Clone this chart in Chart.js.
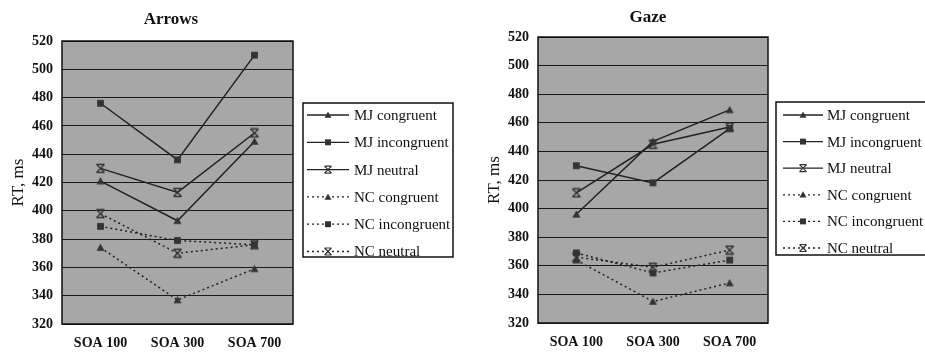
<!DOCTYPE html>
<html>
<head>
<meta charset="utf-8">
<script src="https://cdn.jsdelivr.net/npm/chart.js@4"></script>
<style>
body{margin:0;background:#fff;width:925px;height:354px;overflow:hidden;position:relative}
#c1{position:absolute;left:0;top:0}
#c2{position:absolute;left:462px;top:0}
</style>
</head>
<body>
<canvas id="c1" width="462" height="354"></canvas>
<canvas id="c2" width="463" height="354"></canvas>
<script>
const categories = ['SOA 100', 'SOA 300', 'SOA 700'];
const seriesNames = ['MJ congruent', 'MJ incongruent', 'MJ neutral', 'NC congruent', 'NC incongruent', 'NC neutral'];
const seriesMarkers = ['triangle', 'rect', 'xbar', 'triangle', 'rect', 'xbar'];
const yMin = 320, yMax = 520, yStep = 20;

// Arrows
const arrowsMJCongruent   = [421, 393, 449];
const arrowsMJIncongruent = [476, 436, 510];
const arrowsMJNeutral     = [430, 413, 455];
const arrowsNCCongruent   = [374, 337, 359];
const arrowsNCIncongruent = [389, 379, 376];
const arrowsNCNeutral     = [398, 370, 376];

// Gaze
const gazeMJCongruent   = [396, 447, 469];
const gazeMJIncongruent = [430, 418, 456];
const gazeMJNeutral     = [411, 445, 457];
const gazeNCCongruent   = [364, 335, 348];
const gazeNCIncongruent = [369, 355, 364];
const gazeNCNeutral     = [366, 359, 371];

const serif = "'Liberation Serif','Times New Roman',serif";
const ink = '#222';

function marker(ctx, style, x, y, r) {
  ctx.beginPath();
  if (style == 'triangle') {
    ctx.moveTo(x, y - r); ctx.lineTo(x + r, y + r * 0.8); ctx.lineTo(x - r, y + r * 0.8); ctx.closePath(); ctx.fill();
  } else if (style == 'rect') {
    ctx.fillRect(x - r * 0.85, y - r * 0.85, r * 1.7, r * 1.7);
  } else {
    ctx.moveTo(x - r, y - r); ctx.lineTo(x + r, y + r);
    ctx.moveTo(x + r, y - r); ctx.lineTo(x - r, y + r);
    ctx.moveTo(x - r, y - r); ctx.lineTo(x + r, y - r);
    ctx.moveTo(x - r, y + r); ctx.lineTo(x + r, y + r);
    ctx.stroke();
  }
}

// marcadores como imagenes pequeñas para los puntos
function markerImage(style) {
  const c = document.createElement('canvas');
  c.width = 11; c.height = 11;
  const g = c.getContext('2d');
  g.fillStyle = '#333'; g.strokeStyle = '#333'; g.lineWidth = 1.3;
  marker(g, style, 5.5, 5.5, 4);
  return c;
}
const markerImgs = {};
seriesMarkers.forEach(m => { if (!markerImgs[m]) markerImgs[m] = markerImage(m); });

// fondo gris, titulo y leyenda con recuadro
const plotBox = {
  id: 'plotBox',
  beforeDraw(chart) {
    const a = chart.chartArea, ctx = chart.ctx;
    ctx.save();
    ctx.fillStyle = '#a7a7a7';
    ctx.fillRect(a.left, a.top, a.right - a.left, a.bottom - a.top);
    ctx.restore();
  },
  beforeDatasetsDraw(chart) {
    const a = chart.chartArea, ctx = chart.ctx;
    ctx.save();
    ctx.strokeStyle = '#111'; ctx.lineWidth = 1.5;
    ctx.strokeRect(a.left, a.top, a.right - a.left, a.bottom - a.top);
    ctx.restore();
  },
  afterDraw(chart, args, o) {
    const ctx = chart.ctx;
    ctx.save();
    ctx.fillStyle = '#111';
    ctx.font = 'bold 17px ' + serif;
    ctx.textAlign = 'center'; ctx.textBaseline = 'middle';
    ctx.fillText(o.title, o.titleX, o.titleY);
    ctx.textAlign = 'left';
    ctx.fillStyle = '#fff';
    ctx.fillRect(o.x, o.y, o.w, o.h);
    ctx.strokeStyle = '#111'; ctx.lineWidth = 1.5;
    ctx.strokeRect(o.x, o.y, o.w, o.h);
    ctx.font = '15px ' + serif;
    chart.data.datasets.forEach((ds, i) => {
      const y = o.y + o.first + i * o.step;
      ctx.strokeStyle = ink; ctx.lineWidth = 1.3;
      ctx.setLineDash(ds.borderDash || []);
      ctx.beginPath(); ctx.moveTo(o.x + o.l0, y); ctx.lineTo(o.x + o.l1, y); ctx.stroke();
      ctx.setLineDash([]);
      ctx.fillStyle = '#333'; ctx.strokeStyle = '#333'; ctx.lineWidth = 1.2;
      marker(ctx, seriesMarkers[i], o.x + (o.l0 + o.l1) / 2, y, 3.5);
      ctx.fillStyle = '#111';
      ctx.fillText(ds.label, o.x + o.tx, y + 1);
    });
    ctx.restore();
  }
};

function makeDatasets(values) {
  return values.map((v, i) => ({
    label: seriesNames[i],
    data: v,
    borderColor: ink,
    borderWidth: 1.5,
    borderDash: i < 3 ? [] : [2, 3],
    pointStyle: markerImgs[seriesMarkers[i]],
    pointRadius: 5,
    tension: 0
  }));
}

function makeChart(id, title, values, cfg) {
  return new Chart(document.getElementById(id), {
    type: 'line',
    data: { labels: categories, datasets: makeDatasets(values) },
    plugins: [plotBox],
    options: {
      responsive: false,
      animation: false,
      devicePixelRatio: 1,
      layout: { padding: { left: 0, right: cfg.padRight, top: cfg.padTop, bottom: 0 } },
      plugins: {
        legend: { display: false },
        tooltip: { enabled: false },
        title: { display: false },
        plotBox: Object.assign({ title: title }, cfg.legend)
      },
      scales: {
        x: {
          offset: true,
          grid: { display: false, drawTicks: false, offset: true },
          border: { display: false },
          ticks: { color: '#111', font: { family: serif, size: 14, weight: 'bold' }, padding: 11, maxRotation: 0 },
          afterFit(s) { s.height = cfg.xHeight; }
        },
        y: {
          min: yMin, max: yMax,
          grid: { color: '#1a1a1a', lineWidth: 1, drawTicks: false },
          border: { display: false },
          ticks: { stepSize: yStep, color: '#111', font: { family: serif, size: 14, weight: 'bold' }, padding: 9 },
          title: {
            display: true, text: 'RT, ms', color: '#111',
            font: { family: serif, size: 17 },
            padding: { top: cfg.yTitlePad, bottom: 0 }
          },
          afterFit(s) { s.width = cfg.yWidth; }
        }
      }
    }
  });
}

makeChart('c1', 'Arrows',
  [arrowsMJCongruent, arrowsMJIncongruent, arrowsMJNeutral, arrowsNCCongruent, arrowsNCIncongruent, arrowsNCNeutral],
  {
    padRight: 169, padTop: 41, yWidth: 62, xHeight: 30, yTitlePad: 8,
    legend: { titleX: 171, titleY: 20, x: 303, y: 103, w: 150, h: 154, first: 12, step: 27.3, l0: 4, l1: 46, tx: 51 }
  });

makeChart('c2', 'Gaze',
  [gazeMJCongruent, gazeMJIncongruent, gazeMJNeutral, gazeNCCongruent, gazeNCIncongruent, gazeNCNeutral],
  {
    padRight: 157, padTop: 37, yWidth: 76, xHeight: 31, yTitlePad: 22,
    legend: { titleX: 186, titleY: 18, x: 314, y: 102, w: 153, h: 153, first: 13, step: 26.6, l0: 7, l1: 47, tx: 51 }
  });
</script>
</body>
</html>
